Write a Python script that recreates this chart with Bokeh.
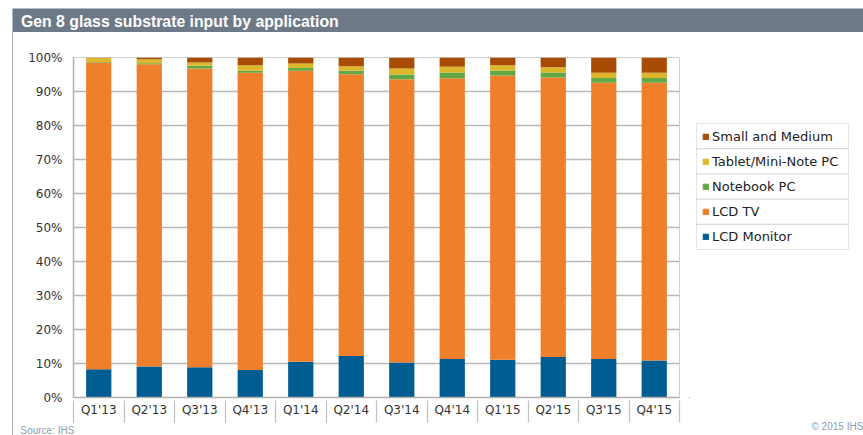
from bokeh.plotting import figure
from bokeh.layouts import row, column
from bokeh.models import (FactorRange, Range1d, FixedTicker, PrintfTickFormatter,
                          CustomJSTickFormatter, LinearAxis, BoxAnnotation,
                          Label, Legend, LegendItem, Title, Div)
from bokeh.embed import file_html
from bokeh.resources import INLINE

quarters = ["Q1'13", "Q2'13", "Q3'13", "Q4'13", "Q1'14", "Q2'14",
            "Q3'14", "Q4'14", "Q1'15", "Q2'15", "Q3'15", "Q4'15"]
lcd_monitor = [8.3, 9.1, 8.9, 8.1, 10.5, 12.2, 10.3, 11.3, 11.1, 11.9, 11.3, 10.9]
lcd_tv = [90.2, 88.9, 87.9, 87.4, 85.6, 82.9, 83.3, 82.6, 83.6, 82.2, 81.3, 81.7]
notebook_pc = [0.2, 0.3, 0.8, 0.6, 0.8, 1.0, 1.4, 1.7, 1.5, 1.5, 1.4, 1.4]
tablet_pc = [1.2, 1.2, 0.9, 1.6, 1.3, 1.3, 1.8, 1.7, 1.5, 1.5, 1.5, 1.5]
small_medium = [0.1, 0.5, 1.5, 2.3, 1.8, 2.6, 3.2, 2.7, 2.3, 2.9, 4.5, 4.5]

series_names = ["LCD Monitor", "LCD TV", "Notebook PC", "Tablet/Mini-Note PC", "Small and Medium"]
series_keys = ["lcd_monitor", "lcd_tv", "notebook_pc", "tablet_pc", "small_medium"]
colors = ["#005d92", "#f07f2b", "#62a845", "#dcb72c", "#a84c05"]
y_ticks = list(range(0, 101, 10))

title_text = "Gen 8 glass substrate input by application"
source_text = "Source: IHS"
copyright_text = "\u00a9 2015 IHS"

TOTAL_W, TOTAL_H = 863, 435
HEADER_H = 32
BODY_H = TOTAL_H - HEADER_H
STRIP_W, MAIN_W = 13, 676
LEG_W = TOTAL_W - STRIP_W - MAIN_W
common = dict(output_backend="svg", toolbar_location=None)

# ---- header bar ----
header = figure(width=TOTAL_W, height=HEADER_H, x_range=Range1d(0, TOTAL_W),
                y_range=Range1d(0, HEADER_H), min_border=0, x_axis_location=None,
                y_axis_location=None, outline_line_color=None, **common)
header.title.visible = False
header.grid.visible = False
header.background_fill_color = "white"
header.border_fill_color = "white"
header.add_layout(BoxAnnotation(left=12, right=TOTAL_W, bottom=0, top=24,
                                fill_color="#6d7986", fill_alpha=1, line_color=None))
header.add_layout(Label(x=20.5, y=10.8, text=title_text, text_color="white",
                        text_font="Liberation Sans", text_font_style="bold",
                        text_font_size="15.8px", text_baseline="middle"))

# ---- left page border ----
strip = Div(text="", width=STRIP_W, height=BODY_H, margin=0,
            styles={"border-right": "1.5px solid #a9b3bd", "box-sizing": "border-box"})

# ---- main chart ----
main = figure(width=MAIN_W, height=BODY_H, x_range=FactorRange(*quarters, range_padding=0),
              y_range=Range1d(0, 100), min_border_left=60, min_border_right=10,
              min_border_top=25, min_border_bottom=37, **common)
main.title.visible = False
main.background_fill_color = "white"
main.border_fill_color = "white"
main.outline_line_color = "#cfcfcf"

data = dict(q=quarters, lcd_monitor=lcd_monitor, lcd_tv=lcd_tv,
            notebook_pc=notebook_pc, tablet_pc=tablet_pc, small_medium=small_medium)
main.vbar_stack(series_keys, x="q", width=0.5, color=colors, line_color=None, source=data)

main.yaxis.ticker = FixedTicker(ticks=y_ticks)
main.yaxis.formatter = PrintfTickFormatter(format="%d%%")
for ax in (main.xaxis[0], main.yaxis[0]):
    ax.axis_line_color = "#b0b0b0"
    ax.axis_line_width = 1.5
    ax.major_tick_out = 0
    ax.major_tick_in = 0
    ax.minor_tick_out = 0
    ax.minor_tick_in = 0
    ax.major_label_text_font = "DejaVu Sans"
    ax.major_label_text_font_size = "12px"
    ax.major_label_text_color = "#333333"
main.yaxis.major_label_standoff = 11
main.xaxis.major_label_standoff = 5
main.xgrid.grid_line_color = None
main.ygrid.grid_line_color = "#b8b8b8"
main.ygrid.grid_line_width = 1.5

# category separators: an outer axis whose ticks sit on category boundaries
sep_axis = LinearAxis(ticker=FixedTicker(ticks=list(range(len(quarters) + 1))),
                      formatter=CustomJSTickFormatter(code="return ''"),
                      major_tick_in=19, major_tick_out=3, minor_tick_in=0, minor_tick_out=0,
                      major_tick_line_color="#c0c0c0", major_tick_line_width=1.2,
                      axis_line_color=None, major_label_standoff=0,
                      major_label_text_font_size="0px")
main.add_layout(sep_axis, "below")
main.add_layout(Title(text=source_text, align="left", offset=-53, standoff=0,
                      text_font="Liberation Sans", text_font_size="10px",
                      text_font_style="normal", text_color="#8a9db0"), "below")

# ---- legend panel (its frame is aligned with the main frame) ----
lf = figure(width=LEG_W, height=BODY_H, x_range=Range1d(0, 1), y_range=Range1d(0, 1),
            min_border=0, x_axis_location=None, y_axis_location=None,
            outline_line_color=None, **common)
lf.title.visible = False
lf.grid.visible = False
lf.background_fill_color = "white"
lf.border_fill_color = "white"
# swatch renderers kept outside the visible range; they only feed the legend glyphs
dummies = [lf.vbar(x=[-5], top=[-5], bottom=[-6], width=0.5, color=c) for c in colors]
row_h = 25.2
n = len(series_names)
leg_bottom = 148
cell_left, cell_right = 7, 159
for k in range(n):
    lf.add_layout(BoxAnnotation(left=cell_left, right=cell_right,
                                bottom=leg_bottom + k * row_h,
                                top=leg_bottom + (k + 1) * row_h,
                                left_units="screen", right_units="screen",
                                top_units="screen", bottom_units="screen",
                                fill_alpha=0, line_color="#a8a8a8", line_width=1))
items = [LegendItem(label=series_names[i], renderers=[dummies[i]])
         for i in reversed(range(n))]
legend = Legend(items=items, location=(cell_left + 6, leg_bottom), margin=0,
                padding=0, spacing=0, label_height=25, glyph_height=7,
                glyph_width=7, label_standoff=3, border_line_color=None,
                background_fill_alpha=0, label_text_font="DejaVu Sans",
                label_text_font_size="13px", label_text_color="#222222")
lf.add_layout(legend, "center")

# copyright note carried by a bare axis below the legend panel
copy_axis = LinearAxis(ticker=FixedTicker(ticks=[0.85]),
                       formatter=CustomJSTickFormatter(code="return '%s'" % copyright_text),
                       major_tick_in=0, major_tick_out=0, minor_tick_in=0, minor_tick_out=0,
                       axis_line_color=None, major_label_standoff=23,
                       major_label_text_font="Liberation Sans",
                       major_label_text_font_size="10px",
                       major_label_text_color="#8a9db0")
lf.add_layout(copy_axis, "below")

layout = column(header, row(strip, main, lf, spacing=0), spacing=0)

open("out.html", "w").write(file_html(layout, INLINE))
